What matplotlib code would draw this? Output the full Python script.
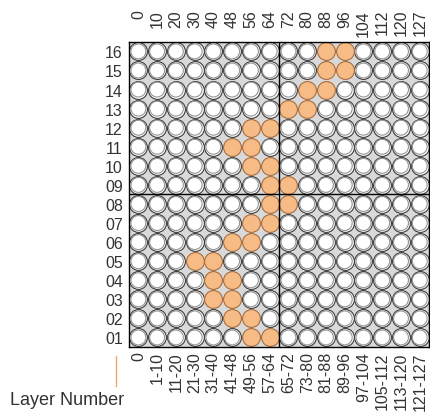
import matplotlib.pyplot as plt
import numpy as np

# column labels (top: channel start, bottom: channel range)
top_labels = ['0', '10', '20', '30', '40', '48', '56', '64', '72', '80',
              '88', '96', '104', '112', '120', '127']
bottom_labels = ['0', '1-10', '11-20', '21-30', '31-40', '41-48', '49-56', '57-64',
                 '65-72', '73-80', '81-88', '89-96', '97-104', '105-112', '113-120', '121-127']
layer_labels = [f'{i:02d}' for i in range(1, 17)]

# highlighted columns for each layer, 01 .. 16
hit_cols = [[6, 7], [5, 6], [4, 5], [4, 5], [3, 4], [5, 6], [6, 7], [7, 8],
            [7, 8], [6, 7], [5, 6], [6, 7], [8, 9], [9, 10], [10, 11], [10, 11]]

n_cols = len(top_labels)
n_rows = len(layer_labels)

fig = plt.figure(figsize=(4.3, 4.14), dpi=100)
ax = fig.add_axes([0.30, 0.1594, 0.698, 0.737])
ax.set_facecolor('#d9d9d9')

xx, yy = np.meshgrid(np.arange(n_cols), np.arange(n_rows))
hit = np.zeros((n_rows, n_cols), dtype=bool)
for r, cols in enumerate(hit_cols):
    hit[r, cols] = True

off_x, off_y = xx[~hit], yy[~hit]
on_x, on_y = xx[hit], yy[hit]

ax.scatter(off_x, off_y, s=165, facecolor='white', edgecolor='#3c3c3c', linewidth=0.8, zorder=2)
ax.scatter(off_x, off_y, s=115, facecolor='none', edgecolor='#959595', linewidth=0.8, zorder=3)
ax.scatter(on_x, on_y, s=165, facecolor='#f7bb86', edgecolor='#a86e3e', linewidth=0.8, zorder=2)

ax.axvline(7.5, color='black', lw=1, zorder=4)
ax.axhline(7.5, color='black', lw=1, zorder=4)

ax.set_xlim(-0.5, n_cols - 0.5)
ax.set_ylim(-0.5, n_rows - 0.5)
for s in ax.spines.values():
    s.set_linewidth(1)
    s.set_color('black')

txt_color = '#333333'
font = 'Liberation Sans'
ax.set_xticks(range(n_cols))
ax.set_xticklabels(bottom_labels, rotation=90, fontsize=11.5, color=txt_color, family=font)
ax.set_yticks(range(n_rows))
ax.set_yticklabels(layer_labels, fontsize=11.5, color=txt_color, family=font)
ax.tick_params(axis='x', length=0, pad=3)
ax.tick_params(axis='y', length=0, pad=4.5)

tr = ax.get_xaxis_transform()
for i, lab in enumerate(top_labels):
    ax.text(i, 1 + 33 / 305, lab, transform=tr, rotation=90, ha='center', va='top',
            fontsize=11.5, color=txt_color, family=font)

fig.text(10 / 430, 1 - 401 / 414, 'Layer Number', ha='left', va='center',
         fontsize=13, color=txt_color, family=font)
fig.add_artist(plt.Line2D([116 / 430, 116 / 430], [1 - 357 / 414, 1 - 387 / 414],
                          color='#f0a868', lw=1))

fig.savefig('out.png', dpi=100)
